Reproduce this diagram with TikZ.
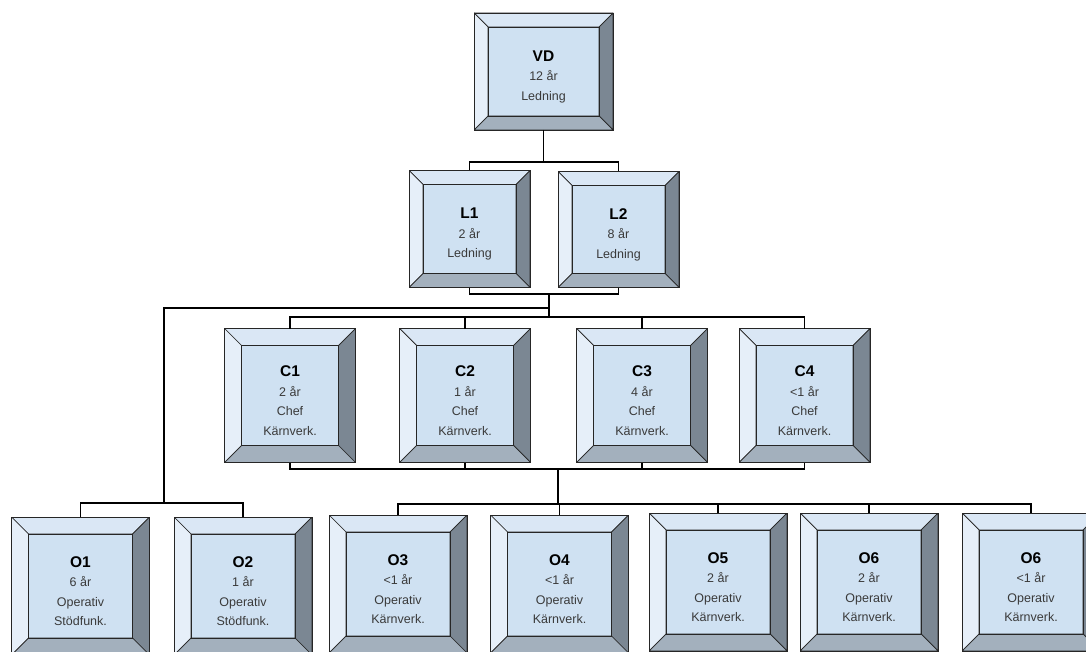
\documentclass[tikz,border=0pt]{standalone}
\usepackage{fontspec}
\setmainfont{Liberation Sans}
\usetikzlibrary{calc}
\definecolor{face}{HTML}{CFE1F2}
\definecolor{bvtop}{HTML}{DAE7F5}
\definecolor{bvleft}{HTML}{E6EFF9}
\definecolor{bvright}{HTML}{7B8793}
\definecolor{bvbottom}{HTML}{A3B0BD}
\definecolor{edge}{HTML}{262626}
\definecolor{txt}{HTML}{3A3A3A}
\newcommand{\ttl}[1]{{\fontsize{15.5}{17}\selectfont\bfseries\color{black}\rule{0pt}{21pt}#1}}

\begin{document}
\begin{tikzpicture}[x=1pt,y=-1pt,line join=miter]
  \tikzset{
    bevel w/.code={\def\bw{#1}},
    bevel w=15pt,
    card/.style={draw=edge,line width=0.8pt,fill=face,inner sep=0pt,outer sep=0pt,
      align=center,text=txt,font=\fontsize{12.5}{19.5}\selectfont,
      path picture={
        \coordinate (nw) at (path picture bounding box.north west);
        \coordinate (ne) at (path picture bounding box.north east);
        \coordinate (sw) at (path picture bounding box.south west);
        \coordinate (se) at (path picture bounding box.south east);
        \coordinate (inw) at ([shift={(\bw,-\bw)}]nw);
        \coordinate (ine) at ([shift={(-\bw,-\bw)}]ne);
        \coordinate (isw) at ([shift={(\bw,\bw)}]sw);
        \coordinate (ise) at ([shift={(-\bw,\bw)}]se);
        \filldraw[fill=bvtop,draw=edge,line width=0.7pt] (nw) -- (ne) -- (ine) -- (inw) -- cycle;
        \filldraw[fill=bvleft,draw=edge,line width=0.7pt] (nw) -- (sw) -- (isw) -- (inw) -- cycle;
        \filldraw[fill=bvright,draw=edge,line width=0.7pt] (ne) -- (se) -- (ise) -- (ine) -- cycle;
        \filldraw[fill=bvbottom,draw=edge,line width=0.7pt] (sw) -- (se) -- (ise) -- (isw) -- cycle;
        \draw[edge,line width=0.9pt] (inw) rectangle (ise);
      }},
    link/.style={line width=1.8pt,black}
  }
  \useasboundingbox (0,0) rectangle (1086,652);
  \clip (0,0) rectangle (1086,652);
  \fill[white] (0,0) rectangle (1086,652);
  % top levels
  \node[card,bevel w=14pt,minimum width=139pt,minimum height=117pt] (VD) at (543.5,71.5) {\ttl{VD}\\12 år\\Ledning};
  \node[card,bevel w=14pt,minimum width=121pt,minimum height=117pt] (L1) at (469.5,229) {\ttl{L1}\\2 år\\Ledning};
  \node[card,bevel w=14pt,minimum width=121pt,minimum height=116pt] (L2) at (618.5,229.5) {\ttl{L2}\\8 år\\Ledning};
  % chefer
  \foreach \nm/\cx/\yrs in {C1/290/2 år,C2/465/1 år,C3/642/4 år,C4/804.5/<1 år}{
    \node[card,bevel w=17pt,minimum width=131pt,minimum height=134pt] (\nm) at (\cx,395.5) {\ttl{\nm}\\\yrs\\Chef\\Kärnverk.};
  }
  % operativa
  \foreach \nm/\lbl/\cx/\cy/\yrs/\unit in {O1/O1/80.5/586/6 år/Stödfunk.,O2/O2/243/586/1 år/Stödfunk.,O3/O3/398/584/<1 år/Kärnverk.,O4/O4/559.5/584/<1 år/Kärnverk.,O5/O5/718/582/2 år/Kärnverk.,O6a/O6/869/582/2 år/Kärnverk.,O6b/O6/1031/582/<1 år/Kärnverk.}{
    \node[card,bevel w=17pt,minimum width=138pt,minimum height=138pt] (\nm) at (\cx,\cy) {\ttl{\lbl}\\\yrs\\Operativ\\\unit};
  }
  % connectors
  \coordinate (busVD) at (543.5,162);
  \coordinate (busL) at (549,294);
  \coordinate (turnO) at (549,308);
  \coordinate (busC) at (549,317);
  \coordinate (busA) at (164,503);
  \coordinate (busCb) at (558,469);
  \coordinate (busO) at (558,504);
  \draw[link] (VD.south) -- (busVD);
  \draw[link] (L1.north) |- (busVD) -| (L2.north);
  \draw[link] (L1.south) |- (busL) -| (L2.south);
  \draw[link] (busL) -- (busC);
  \draw[link] (C1.north) |- (busC) -| (C4.north);
  \draw[link] (C2.north) -- (C2.north |- busC);
  \draw[link] (C3.north) -- (C3.north |- busC);
  \draw[link] (turnO) -| (busA);
  \draw[link] (O1.north) |- (busA) -| (O2.north);
  \draw[link] (C1.south) |- (busCb) -| (C4.south);
  \draw[link] (C2.south) -- (C2.south |- busCb);
  \draw[link] (C3.south) -- (C3.south |- busCb);
  \draw[link] (busCb) -- (busO);
  \draw[link] (O3.north) |- (busO) -| (O6b.north);
  \foreach \nm in {O4,O5,O6a}{
    \draw[link] (\nm.north) -- (\nm.north |- busO);
  }
\end{tikzpicture}
\end{document}
